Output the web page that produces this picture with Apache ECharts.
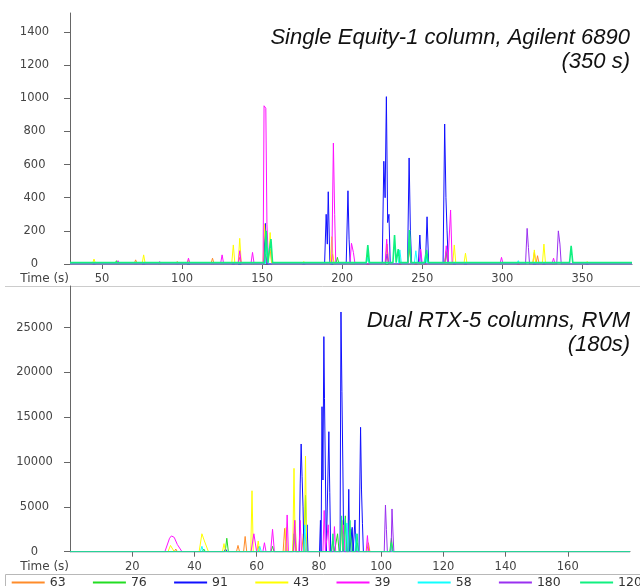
<!DOCTYPE html>
<html>
<head>
<meta charset="utf-8">
<script src="https://cdn.jsdelivr.net/npm/echarts@6/dist/echarts.min.js"></script>
<style>
  html, body { margin: 0; padding: 0; background: #fff; }
  #chart { width: 640px; height: 586px; }
</style>
</head>
<body>
<div id="chart"></div>
<script>
// ion masses (legend order) and colours
const ions = ["63", "76", "91", "43", "39", "58", "180", "120"];
const ionColors = ["#ff8c2a", "#22dd22", "#1010ff", "#ffff00", "#ff10ff", "#10ffff", "#9a30f0", "#10f080"];

// tick labels
const topTimeTicks = [50, 100, 150, 200, 250, 300, 350];
const topIntensityTicks = [0, 200, 400, 600, 800, 1000, 1200, 1400];
const bottomTimeTicks = [20, 40, 60, 80, 100, 120, 140, 160];
const bottomIntensityTicks = [0, 5000, 10000, 15000, 20000, 25000];

// --- Single Equity-1 column, Agilent 6890 : [time (s), intensity] ---
const top63 = [[30,0],[70,0],[71,25],[72,0],[96,0],[97,15],[98,0],[118,0],[119,35],[120,0],[135,0],[136,40],[137,0],
  [151,0],[152,130],[153,0],[154,0],[155,90],[156,0],[193,0],[194,60],[195,0],[227,0],[228,120],[229,0],
  [241,0],[242,90],[243,0],[264,0],[265,80],[266,0],[319,0],[320,70],[321,0],[322,50],[323,0],[381,0]];
const top76 = [[30,0],[58,0],[59,20],[60,0],[151,0],[152,120],[153,0],[196,0],[197,40],[198,0],[215,0],[216,60],[217,0],
  [241,0],[242,130],[243,0],[252,0],[253,60],[254,0],[264,0],[265,70],[266,0],[381,0]];
const top91 = [[30,0],[151,0],[152,245],[153,0],[189,0],[190,300],[190.7,120],[191.3,436],[192.3,0],
  [202.5,0],[203.6,442],[204.3,150],[205,0],[225,0],[226,620],[226.8,400],[227.6,1010],[228.4,250],[229.2,300],[230,0],
  [240.8,0],[241.8,640],[242.6,200],[243.4,0],[247.6,0],[248.5,175],[249.4,0],[252,0],[253,285],[254,0],
  [263,0],[264,845],[264.8,400],[265.5,200],[266.3,0],[381,0]];
const top43 = [[30,0],[44,0],[45,30],[46,0],[75,0],[76,55],[77,0],[103,0],[104,25],[105,0],[131,0],[132,115],[133,0],
  [135,0],[136,155],[137,0],[150.5,0],[151.5,240],[152.5,60],[154,0],[155,190],[156,0],[175,0],[176,15],[177,0],
  [192.5,0],[193.5,165],[194.5,0],[227,0],[228,60],[229,0],[269,0],[270,115],[271,0],[276,0],[277,65],[278,0],
  [319,0],[320,85],[321,0],[325,0],[326,120],[327,0],[352,0],[353,15],[354,0],[381,0]];
const top39 = [[30,0],[59,0],[60,20],[61,0],[85,0],[86,15],[87,0],[103,0],[104,35],[105,0],[124,0],[125,55],[126,0],
  [135,0],[136,80],[137,0],[143,0],[144,70],[145,0],[150.6,0],[151.2,955],[152.3,940],[153,240],[154,0],
  [193.5,0],[194.5,730],[195.3,300],[196,0],[204.8,0],[205.8,125],[207,70],[208,0],[226.8,0],[227.8,150],[228.8,0],
  [241,0],[242,170],[243,0],[248,0],[249,90],[250,0],[264,0],[265,110],[266,0],[266.7,0],[267.7,326],[268.7,0],
  [298.5,0],[299.5,40],[300.5,0],[331,0],[332,35],[333,0],[381,0]];
const top58 = [[30,0],[152,0],[153,100],[154,0],[215,0],[216,40],[217,0],[235,0],[236,85],[237,0],[245,0],[246,80],[247,0],
  [251,0],[252,60],[253,0],[309,0],[310,20],[311,0],[381,0]];
const top180 = [[30,0],[151,0],[152,60],[153,0],[227,0],[228,60],[229,0],[314.5,0],[315.5,215],[316.3,100],[317,0],
  [334,0],[335,200],[336,120],[336.8,0],[381,0]];
const top120 = [[30,8],[151.5,8],[152.5,200],[153.5,8],[154.5,8],[155.5,150],[156.5,8],[215,8],[216,115],[217,8],
  [231.7,8],[232.7,175],[233.7,8],[234,8],[235,90],[236,8],[241,8],[242,205],[243,8],[251.7,8],[252.7,85],[253.7,8],
  [342,8],[343,110],[344,8],[381,8]];

// --- Dual RTX-5 columns, RVM : [time (s), intensity] ---
const bot63 = [[0,0],[33.5,0],[34,300],[34.5,0],[53.5,0],[54,700],[54.5,0],[55.8,0],[56.3,1700],[56.8,0],
  [60,0],[60.5,600],[61,0],[68.5,0],[69,2600],[69.5,0],[71.8,0],[72.3,3500],[72.8,0],[74.5,0],[75,2000],[75.5,0],
  [86.9,0],[87.4,3500],[87.9,0],[95.4,0],[95.9,1000],[96.4,0],[180,0]];
const bot76 = [[0,0],[42.5,0],[43,300],[43.5,0],[49.9,0],[50.4,1500],[50.9,0],[64.6,0],[65.1,600],[65.6,0],
  [71.5,0],[72,2000],[72.5,0],[75.2,0],[75.7,6300],[76.2,0],[84,0],[84.5,1200],[85,0],[85.5,0],[86,2000],[86.5,0],
  [88,0],[88.5,4000],[89,0],[89.8,0],[90.3,2500],[90.8,0],[91.8,0],[92.3,1000],[92.8,0],[102.8,0],[103.3,1500],[103.8,0],[180,0]];
const bot91 = [[0,0],[49.5,0],[50,300],[50.5,0],[73.7,0],[74,7560],[74.3,12020],[74.6,8370],[74.9,5000],[75.2,0],
  [75.9,0],[76.2,3000],[76.5,0],[80.2,0],[80.5,3500],[80.7,0],[80.8,0],[81,16180],[81.3,8000],[81.6,24000],[81.8,17100],[82.1,8560],[82.4,0],
  [82.9,0],[83.2,13390],[83.5,6590],[83.8,0],[86.8,0],[87.1,26750],[87.4,17860],[87.7,9560],[88,0],
  [89.3,0],[89.6,6960],[89.9,0],[90.4,0],[90.7,2720],[91,0],[91.3,0],[91.6,3540],[91.9,0],
  [92.9,0],[93.2,8560],[93.4,13880],[93.7,6890],[94,3170],[94.3,0],[180,0]];
const bot43 = [[0,0],[31.5,0],[32.3,700],[33.5,0],[41.5,0],[42.4,2000],[43.2,1200],[44.5,0],[49,0],[49.5,900],[50,0],
  [58.1,0],[58.5,6800],[58.9,0],[60,0],[60.5,1200],[61,0],[69.1,0],[69.5,2700],[69.9,0],[71.6,0],[72,9300],[72.4,0],
  [75.3,0],[75.7,10680],[76.1,0],[87.6,0],[88,2000],[88.4,0],[180,0]];
const bot39 = [[0,0],[30.5,0],[32,1500],[32.6,1760],[33.5,1600],[34.5,800],[36,0],[58.2,0],[59.1,2000],[60,0],
  [62,0],[62.5,1000],[63,0],[64.5,0],[65.1,2500],[65.7,0],[69.4,0],[69.8,4100],[70.2,0],[71.8,0],[72.2,3500],[72.6,0],
  [73.6,0],[74,3500],[74.4,0],[81.3,0],[81.7,4600],[82.1,0],[82.6,0],[83,3000],[83.4,0],[84.6,0],[85,2800],[85.4,0],
  [87.6,0],[88,3000],[88.4,0],[95.2,0],[95.6,1800],[96,0],[180,0]];
const bot58 = [[0,0],[41.9,0],[42.4,600],[42.9,0],[60.5,0],[61,600],[61.5,0],[75.1,0],[75.5,3000],[75.9,0],
  [88.6,0],[89,3200],[89.4,0],[91.6,0],[92,2000],[92.4,0],[180,0]];
const bot180 = [[0,0],[101,0],[101.4,5210],[101.7,2500],[102,0],[103.2,0],[103.5,4770],[103.8,2200],[104.1,0],[180,0]];
const bot120 = [[0,0],[84.1,0],[84.5,2000],[84.9,0],[86.9,0],[87.3,4000],[87.7,0],[88.1,0],[88.5,3700],[88.9,0],
  [89.6,0],[90,3500],[90.4,0],[91.9,0],[92.3,2000],[92.7,0],[102.9,0],[103.3,1000],[103.7,0],[180,0]];

const topData = [top63, top76, top91, top43, top39, top58, top180, top120];
const botData = [bot63, bot76, bot91, bot43, bot39, bot58, bot180, bot120];

const chart = echarts.init(document.getElementById("chart"), null, { renderer: "canvas" });

const labelFont = { fontFamily: "DejaVu Sans", fontSize: 11.5, color: "#444" };
const axisLineStyle = { lineStyle: { color: "#666", width: 1 } };
const plainNumber = function (v) { return String(v); };

function xAxisFor(gridIndex, min, max, ticks) {
    return {
        gridIndex: gridIndex,
        type: "value",
        min: min,
        max: max,
        name: "Time (s)",
        nameLocation: "start",
        nameGap: 1,
        nameTextStyle: Object.assign({}, labelFont, { fontSize: 12, align: "right", verticalAlign: "top", padding: [9, 0, 0, 0] }),
        axisLine: axisLineStyle,
        axisTick: { show: true, length: 5, customValues: ticks, lineStyle: { color: "#666" } },
        axisLabel: Object.assign({}, labelFont, { margin: 9, customValues: ticks, formatter: plainNumber }),
        splitLine: { show: false },
    };
}
function yAxisFor(gridIndex, max, ticks) {
    return {
        gridIndex: gridIndex,
        type: "value",
        min: 0,
        max: max,
        axisLine: { show: true, lineStyle: { color: "#666", width: 1 } },
        axisTick: { show: true, length: 6, customValues: ticks, lineStyle: { color: "#666" } },
        axisLabel: Object.assign({}, labelFont, { margin: 35.5, align: "center", customValues: ticks, formatter: plainNumber }),
        splitLine: { show: false },
    };
}

const series = [];
ions.forEach(function (ion, i) {
    series.push({ name: ion, type: "line", xAxisIndex: 0, yAxisIndex: 0, data: topData[i],
        symbol: "none", color: ionColors[i], lineStyle: { width: ion === "120" ? 1.6 : 1 }, z: 2 + i });
});
ions.forEach(function (ion, i) {
    series.push({ name: ion, type: "line", xAxisIndex: 1, yAxisIndex: 1, data: botData[i],
        symbol: "none", color: ionColors[i], lineStyle: { width: 1 }, z: 2 + i });
});

const titleStyle = { fontFamily: "Liberation Sans", fontStyle: "italic", fontWeight: "normal",
    fontSize: 22, lineHeight: 24, color: "#111" };

const option = {
    animation: false,
    backgroundColor: "#fff",
    title: [
        { text: "Single Equity-1 column, Agilent 6890\n(350 s)", left: 630, top: 26, padding: 0,
          textAlign: "right", textStyle: titleStyle },
        { text: "Dual RTX-5 columns, RVM\n(180s)", left: 630, top: 309, padding: 0,
          textAlign: "right", textStyle: titleStyle },
    ],
    grid: [
        { left: 70, right: 8, top: 13, height: 251 },
        { left: 70, right: 10, top: 286, height: 265.7 },
    ],
    xAxis: [xAxisFor(0, 30, 381, topTimeTicks), xAxisFor(1, 0, 180, bottomTimeTicks)],
    yAxis: [yAxisFor(0, 1515, topIntensityTicks), yAxisFor(1, 29650, bottomIntensityTicks)],
    legend: ions.map(function (ion, i) {
        return {
            data: [ion], left: 11.7 + i * 81.2, top: 576, padding: 0, icon: "rect",
            itemWidth: 33, itemHeight: 2, itemGap: 0, selectedMode: false,
            textStyle: { fontFamily: "DejaVu Sans", fontSize: 12.5, color: "#333" },
        };
    }),
    graphic: [
        { type: "line", shape: { x1: 5, y1: 286.5, x2: 640, y2: 286.5 }, style: { stroke: "#ccc", lineWidth: 1 }, z: 0 },
        { type: "rect", shape: { x: 5.5, y: 574.5, width: 640, height: 30 }, style: { fill: "none", stroke: "#b8b8b8", lineWidth: 1 }, z: 0 },
    ],
    series: series,
};

chart.setOption(option);
</script>
</body>
</html>
